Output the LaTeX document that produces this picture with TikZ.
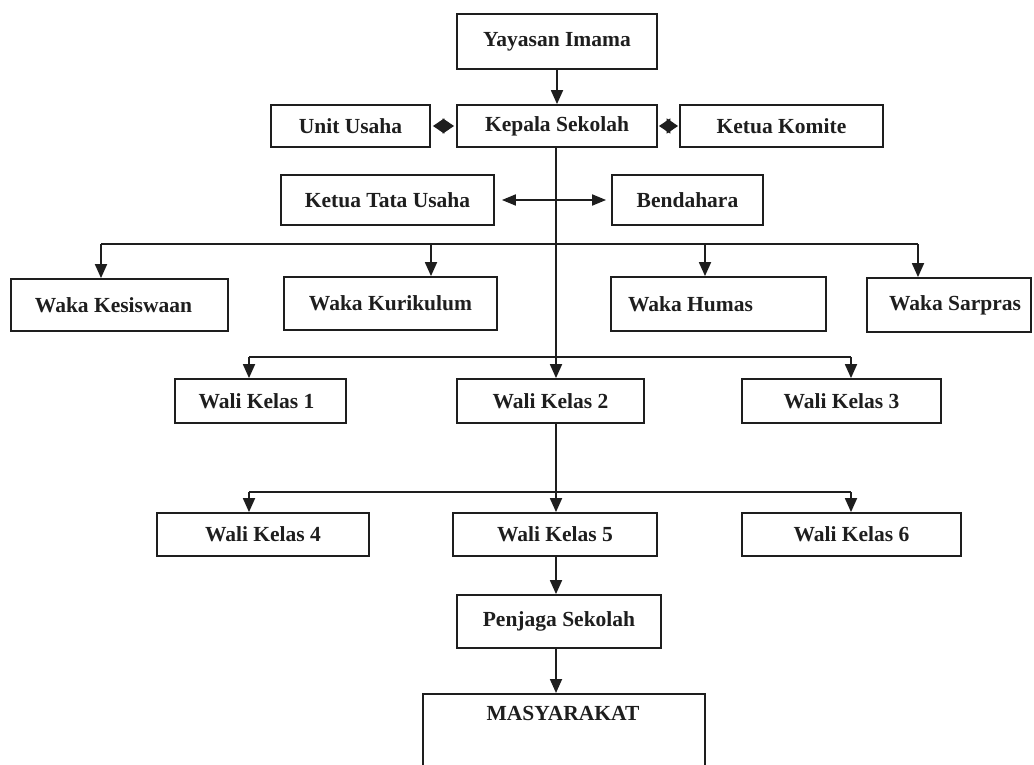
\documentclass[tikz,border=0pt]{standalone}
\usepackage{fontspec}
\setmainfont{Liberation Serif}
\usetikzlibrary{arrows.meta}
\definecolor{ink}{HTML}{1E1E1E}
\tikzset{
  box/.style={draw=ink, line width=1.8pt, inner sep=0pt, text=ink,
    font=\bfseries\fontsize{21.5}{24}\selectfont},
  lbl/.style={inner sep=0pt, text=ink, font=\bfseries\fontsize{21.5}{24}\selectfont},
  conn/.style={draw=ink, line width=1.8pt},
  arr/.style={conn, -{Triangle[length=14pt,width=12pt]}},
  dia/.style={conn, {Triangle[length=11.5pt,width=15pt]}-{Triangle[length=11.5pt,width=15pt]}},
  dbl/.style={conn, {Triangle[length=14pt,width=11pt]}-{Triangle[length=14pt,width=11pt]}}
}
\begin{document}
\begin{tikzpicture}[x=1pt,y=-1pt]
\clip (0,0) rectangle (1034,765);
\fill[white] (0,0) rectangle (1034,765);
% top
\node[box, minimum width=200pt, minimum height=55pt] (yay) at (557,41.5) {Yayasan Imama};
\node[box, minimum width=159pt, minimum height=42pt] (unit) at (350.5,126) {Unit Usaha};
\node[box, minimum width=200pt, minimum height=42pt] (kep) at (557,126) {Kepala Sekolah};
\node[box, minimum width=203pt, minimum height=42pt] (kom) at (781.5,126) {Ketua Komite};
\node[box, minimum width=213pt, minimum height=50pt] (ktu) at (387.5,200) {Ketua Tata Usaha};
\node[box, minimum width=151pt, minimum height=50pt] (ben) at (687.5,200) {Bendahara};
% waka row
\node[box, minimum width=217pt, minimum height=52pt] (wks) at (119.5,305) {\hspace*{-12pt}Waka Kesiswaan};
\node[box, minimum width=213pt, minimum height=53pt] (wkk) at (390.5,303.5) {Waka Kurikulum};
\node[box, minimum width=215pt, minimum height=54pt] (wkh) at (718.5,304) {\hspace*{-56pt}Waka Humas};
\node[box, minimum width=164pt, minimum height=54pt] (wksp) at (949,305) {\hspace*{12pt}Waka Sarpras};
% wali row 1
\node[box, minimum width=171pt, minimum height=44pt] (wk1) at (260.5,401) {\hspace*{-8pt}Wali Kelas 1};
\node[box, minimum width=187pt, minimum height=44pt] (wk2) at (550.5,401) {Wali Kelas 2};
\node[box, minimum width=199pt, minimum height=44pt] (wk3) at (841.5,401) {Wali Kelas 3};
% wali row 2
\node[box, minimum width=212pt, minimum height=43pt] (wk4) at (263,534.5) {Wali Kelas 4};
\node[box, minimum width=204pt, minimum height=43pt] (wk5) at (555,534.5) {Wali Kelas 5};
\node[box, minimum width=219pt, minimum height=43pt] (wk6) at (851.5,534.5) {Wali Kelas 6};
% bottom
\node[box, minimum width=204pt, minimum height=53pt] (pen) at (559,621.5) {Penjaga Sekolah};
\node[box, minimum width=282pt, minimum height=140pt, anchor=north] (mas) at (564,693) {};
\node[lbl] (mastext) at (563,713) {MASYARAKAT};
% coordinates
\coordinate (b1) at (556,244);
\coordinate (b2) at (556,357);
\coordinate (b3) at (556,492);
\coordinate (b1l) at (101,244);
\coordinate (b1r) at (918,244);
\coordinate (b2l) at (249,357);
\coordinate (b2r) at (851,357);
\coordinate (b3l) at (249,492);
\coordinate (b3r) at (851,492);
% connectors
\draw[arr] (yay.south) -- (kep.north);
\draw[dia, shorten <=2pt, shorten >=2pt] (unit.east) -- (kep.west);
\draw[dia, shorten <=1pt, shorten >=1pt] (kep.east) -- (kom.west);
\draw[dbl, shorten <=7pt, shorten >=5pt] (ktu.east) -- (ben.west);
\draw[conn] (kep.south -| b1) -- (b1);
\draw[conn] (b1l) -- (b1r);
\draw[arr] (b1l) -- (wks.north -| b1l);
\draw[arr] (431,244) -- (wkk.north -| 431,0);
\draw[arr] (705,244) -- (wkh.north -| 705,0);
\draw[arr] (b1r) -- (wksp.north -| b1r);
\draw[arr] (b1) -- (wk2.north -| b1);
\draw[conn] (b2l) -- (b2r);
\draw[arr] (b2l) -- (wk1.north -| b2l);
\draw[arr] (b2r) -- (wk3.north -| b2r);
\draw[conn] (wk2.south -| b3) -- (b3);
\draw[conn] (b3l) -- (b3r);
\draw[arr] (b3) -- (wk5.north -| b3);
\draw[arr] (b3l) -- (wk4.north -| b3l);
\draw[arr] (b3r) -- (wk6.north -| b3r);
\draw[arr] (wk5.south -| b3) -- (pen.north -| b3);
\draw[arr] (pen.south -| b3) -- (mas.north -| b3);
\end{tikzpicture}
\end{document}
